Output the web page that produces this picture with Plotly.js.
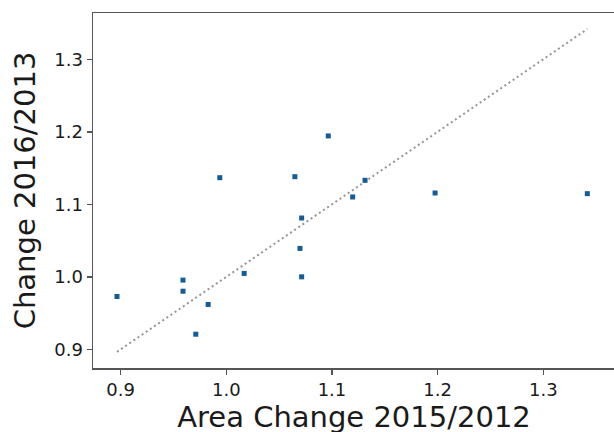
<!DOCTYPE html>
<html>
<head>
<meta charset="utf-8">
<script src="https://cdn.plot.ly/plotly-3.0.1.min.js"></script>
<style>
html, body { margin: 0; padding: 0; overflow: hidden; background: #fff; }
#chart { width: 620px; height: 436px; }
</style>
</head>
<body>
<div id="chart"></div>
<script>
// Area change 2015/2012 (x) vs change 2016/2013 (y)
const areaChange = [0.9938, 1.0649, 1.1313, 1.1196, 1.1976, 1.3417, 1.0713, 1.0697,
                    1.0169, 1.0713, 0.9590, 1.0965, 0.8965, 0.9590, 0.9828, 0.9711];
const change2016 = [1.1367, 1.1381, 1.1331, 1.1101, 1.1156, 1.1147, 1.0811, 1.0392,
                    1.0047, 1.0000, 0.9955, 1.1943, 0.9729, 0.9802, 0.9619, 0.9209];
const tickValues = [0.9, 1.0, 1.1, 1.2, 1.3];
const tickLabels = ['0.9', '1.0', '1.1', '1.2', '1.3'];

const lo = Math.min(...areaChange);
const hi = Math.max(...areaChange);
const identityLine = [lo, hi];

const font = 'DejaVu Sans, sans-serif';

const traces = [
  {
    x: identityLine, y: identityLine,
    mode: 'lines', type: 'scatter',
    line: { color: '#959595', width: 2, dash: '2px,3px' },
    hoverinfo: 'skip', showlegend: false
  },
  {
    x: areaChange, y: change2016,
    mode: 'markers', type: 'scatter',
    marker: { symbol: 'square', size: 5, color: '#135c97' },
    showlegend: false
  }
];

const axisCommon = {
  showline: true, mirror: true, linecolor: '#555555', linewidth: 1.5,
  ticks: 'outside', ticklen: 5, tickwidth: 1.5, tickcolor: '#555555',
  showgrid: false, zeroline: false,
  tickvals: tickValues, ticktext: tickLabels,
  tickfont: { family: font, size: 18, color: '#1a1a1a' }
};

const layout = {
  width: 620, height: 436,
  margin: { l: 93, r: 5, t: 13, b: 68, pad: 0 },
  paper_bgcolor: '#ffffff', plot_bgcolor: '#ffffff',
  xaxis: Object.assign({}, axisCommon, {
    range: [0.8738, 1.3679],
    title: { text: 'Area Change 2015/2012', font: { family: font, size: 29, color: '#1a1a1a' }, standoff: 6 }
  }),
  yaxis: Object.assign({}, axisCommon, {
    range: [0.8743, 1.3638],
    title: { text: 'Change 2016/2013', font: { family: font, size: 29, color: '#1a1a1a' }, standoff: 10 }
  })
};

Plotly.newPlot('chart', traces, layout, { displayModeBar: false, staticPlot: true });
</script>
</body>
</html>
